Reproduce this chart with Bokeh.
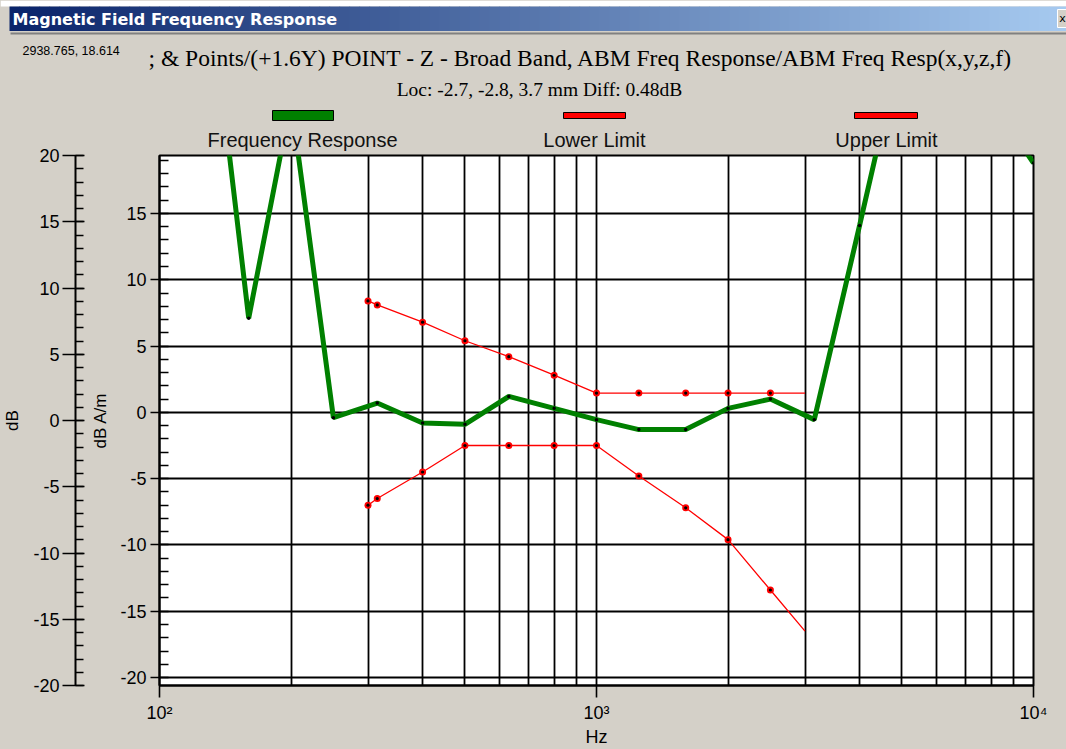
from bokeh.plotting import figure
from bokeh.models import Range1d, LinearAxis, LogAxis, FixedTicker, CustomJSTickFormatter
from bokeh.layouts import column
from bokeh.embed import file_html
from bokeh.resources import INLINE
from bokeh.core.properties import value

# ---------------- data ----------------
freq_response_hz = [125, 160, 200, 250, 315, 400, 500, 630, 800, 1000,
                    1250, 1600, 2000, 2500, 3150, 4000, 5000, 6300, 8000, 10000]
freq_response_db = [37.0, 7.1, 23.5, -0.4, 0.7, -0.8, -0.9, 1.2, 0.3, -0.55,
                    -1.3, -1.3, 0.3, 1.0, -0.55, 14.1, 28.0, 31.0, 23.5, 18.8]

limit_hz = [300, 315, 400, 500, 630, 800, 1000, 1250, 1600, 2000, 2500, 3000]
lower_limit_db = [-7.0, -6.5, -4.5, -2.5, -2.5, -2.5, -2.5, -4.8, -7.2, -9.6, -13.4, -16.5]
upper_limit_db = [8.4, 8.1, 6.8, 5.4, 4.2, 2.8, 1.45, 1.45, 1.45, 1.45, 1.45, 1.45]

x_major_ticks = [100, 1000, 10000]
x_minor_ticks = [200, 300, 400, 500, 600, 700, 800, 900,
                 2000, 3000, 4000, 5000, 6000, 7000, 8000, 9000]
y_major_ticks = [-20, -15, -10, -5, 0, 5, 10, 15, 20]
y_minor_ticks = list(range(-20, 21))

window_title = "Magnetic Field Frequency Response"
cursor_text = "2938.765, 18.614"
header_text = "; & Points/(+1.6Y) POINT - Z -  Broad Band, ABM Freq Response/ABM Freq Resp(x,y,z,f)"
loc_text = "Loc: -2.7, -2.8, 3.7 mm Diff: 0.48dB"
legend_labels = ["Frequency Response", "Lower Limit", "Upper Limit"]
legend_colors = ["#008000", "#ff0000", "#ff0000"]
legend_label_hz = [212.5, 989.5, 4609.0]   # legend label centres on the frequency axis

GRAY = "#D4D0C8"
W = 1066
HH = 125

# ---------------- header (title bar, text, legend swatches) ----------------
hdr = figure(frame_width=W, frame_height=HH, x_range=Range1d(0, W), y_range=Range1d(HH, 0),
             toolbar_location=None, output_backend="svg", min_border=0,
             x_axis_type=None, y_axis_type=None, title=None)
hdr.frame_align = False
hdr.outline_line_color = None
hdr.background_fill_color = GRAY
hdr.border_fill_color = GRAY

# white strip above the window
hdr.quad(left=[0], right=[W], top=[0], bottom=[6], fill_color="white", line_color=None)

n_strips = 106
c0 = (10, 36, 106)
c1 = (166, 202, 240)
strip_left = [9 + i * 10 for i in range(n_strips)]
strip_right = [9 + i * 10 + 10.6 for i in range(n_strips)]
strip_cols = []
for i in range(n_strips):
    t = i / (n_strips - 1)
    strip_cols.append("#%02x%02x%02x" % tuple(int(round(a + (b - a) * t)) for a, b in zip(c0, c1)))
hdr.quad(left=strip_left, right=strip_right, top=6, bottom=30.5,
         fill_color=strip_cols, line_color=None)
hdr.text(x=[12], y=[18.5], text=[window_title], text_color="white",
         text_font=value("DejaVu Sans"), text_font_style="bold",
         text_font_size="16px", text_baseline="middle")
# close button
hdr.quad(left=[1057], right=[1067], top=[9], bottom=[27], fill_color=GRAY,
         line_color="#ffffff", line_width=1)
hdr.text(x=[1062], y=[18], text=["x"], text_color="black",
         text_font=value("DejaVu Sans"), text_font_size="11px",
         text_align="center", text_baseline="middle")

# sunken panel border
hdr.segment(x0=[10], y0=[33], x1=[W], y1=[33], line_color="#808080", line_width=2)

hdr.text(x=[22], y=[50], text=[cursor_text], text_color="black",
         text_font=value("Liberation Sans"), text_font_size="12.5px",
         text_baseline="middle")
hdr.text(x=[148], y=[57], text=[header_text], text_color="black",
         text_font=value("Liberation Serif"), text_font_size="23.5px",
         text_baseline="middle")
hdr.text(x=[539], y=[88.5], text=[loc_text], text_color="black",
         text_font=value("Liberation Serif"), text_font_size="19.5px",
         text_baseline="middle", text_align="center")

# legend swatches
sw_left = [272, 563, 854]
sw_right = [333, 625, 917]
sw_top = [110, 112, 112]
sw_bottom = [120, 118, 118]
hdr.quad(left=sw_left, right=sw_right, top=sw_top, bottom=sw_bottom,
         fill_color=legend_colors, line_color="black", line_width=1)

# ---------------- main plot ----------------
p = figure(frame_width=874, frame_height=530, x_axis_type="log",
           x_range=Range1d(100, 10000), y_range=Range1d(-20.6, 19.37),
           toolbar_location=None, output_backend="svg",
           min_border_left=157, min_border_right=35,
           min_border_top=30, min_border_bottom=63)
p.frame_align = False
p.background_fill_color = "white"
p.border_fill_color = GRAY
p.outline_line_color = "black"
p.outline_line_width = 2

yticker = FixedTicker(ticks=y_major_ticks, minor_ticks=y_minor_ticks)
xticker = FixedTicker(ticks=x_major_ticks, minor_ticks=x_minor_ticks)
int_fmt = "return tick.toFixed(0);"

# inner (dB A/m) axis
yax = p.yaxis[0]
yax.ticker = yticker
yax.formatter = CustomJSTickFormatter(code=int_fmt)
yax.axis_label = "dB A/m"
yax.axis_label_standoff = 7
yax.axis_label_text_font = "Liberation Sans"
yax.axis_label_text_font_size = "17px"
yax.axis_label_text_font_style = "normal"
yax.axis_label_text_color = "black"
yax.major_label_text_font = "Liberation Sans"
yax.major_label_text_font_size = "18px"
yax.major_label_text_color = "black"
yax.major_label_standoff = 4
yax.major_tick_out = 9
yax.major_tick_in = 0
yax.minor_tick_in = 9
yax.minor_tick_out = 0
yax.axis_line_width = 2
yax.axis_line_color = "black"
yax.major_tick_line_width = 1.6
yax.minor_tick_line_width = 1.6
yax.major_tick_line_color = "black"
yax.minor_tick_line_color = "black"

# spacer between the two left axes (invisible)
spacer = LinearAxis(ticker=FixedTicker(ticks=[0]),
                    formatter=CustomJSTickFormatter(code="return '';"),
                    axis_line_color=None,
                    major_tick_line_color=GRAY, minor_tick_line_color=None,
                    major_tick_out=13, major_tick_in=0, minor_tick_out=0,
                    major_label_standoff=0)
p.add_layout(spacer, "left")

# outer (dB) axis
p.extra_y_ranges = {"outer": Range1d(-20, 20)}
outer = LinearAxis(y_range_name="outer",
                   ticker=FixedTicker(ticks=y_major_ticks, minor_ticks=y_minor_ticks),
                   formatter=CustomJSTickFormatter(code=int_fmt),
                   axis_label="dB")
outer.axis_label_standoff = 8
outer.axis_label_text_font = "Liberation Sans"
outer.axis_label_text_font_size = "17px"
outer.axis_label_text_font_style = "normal"
outer.axis_label_text_color = "black"
outer.major_label_text_font = "Liberation Sans"
outer.major_label_text_font_size = "18px"
outer.major_label_text_color = "black"
outer.major_label_standoff = 3
outer.major_tick_out = 13
outer.major_tick_in = 9
outer.minor_tick_in = 8
outer.minor_tick_out = 0
outer.axis_line_width = 2
outer.axis_line_color = "black"
outer.major_tick_line_width = 1.6
outer.minor_tick_line_width = 1.6
outer.major_tick_line_color = "black"
outer.minor_tick_line_color = "black"
p.add_layout(outer, "left")

# x axis
xax = p.xaxis[0]
xax.ticker = xticker
xax.formatter = CustomJSTickFormatter(code="""
const sup = {"2": "\u00b2", "3": "\u00b3", "4": "\u2074"};
const e = Math.round(Math.log10(tick));
return "10" + sup[String(e)];
""")
xax.axis_label = "Hz"
xax.axis_label_standoff = 1
xax.axis_label_text_font = "Liberation Sans"
xax.axis_label_text_font_size = "18px"
xax.axis_label_text_font_style = "normal"
xax.axis_label_text_color = "black"
xax.major_label_text_font = "Liberation Sans"
xax.major_label_text_font_size = "18px"
xax.major_label_text_color = "black"
xax.major_label_standoff = 5
xax.major_tick_out = 12
xax.major_tick_in = 0
xax.minor_tick_line_color = None
xax.axis_line_width = 2
xax.axis_line_color = "black"
xax.major_tick_line_width = 1.6
xax.major_tick_line_color = "black"

# legend labels: an unlined axis above the frame carrying the series names
legend_axis = LogAxis(ticker=FixedTicker(ticks=legend_label_hz),
                      formatter=CustomJSTickFormatter(args=dict(names=legend_labels),
                                                      code="return names[index];"),
                      axis_line_color=None, major_tick_line_color=None,
                      minor_tick_line_color=None, major_tick_out=0, major_tick_in=0,
                      minor_tick_out=0, minor_tick_in=0, major_label_standoff=5)
legend_axis.major_label_text_font = "Liberation Sans"
legend_axis.major_label_text_font_size = "20px"
legend_axis.major_label_text_color = "#111111"
p.add_layout(legend_axis, "above")

# grids
p.xgrid.ticker = xticker
p.xgrid.grid_line_color = "black"
p.xgrid.grid_line_width = 1.8
p.xgrid.minor_grid_line_color = "black"
p.xgrid.minor_grid_line_width = 1.8
p.ygrid.ticker = yticker
p.ygrid.grid_line_color = "black"
p.ygrid.grid_line_width = 1.8

# data
p.line(freq_response_hz, freq_response_db, line_color="#008000", line_width=5)
p.scatter(freq_response_hz, freq_response_db, size=3.5, fill_color="black", line_color=None)

for vals in (lower_limit_db, upper_limit_db):
    p.line(limit_hz, vals, line_color="#ff0000", line_width=1.3)
    p.scatter(limit_hz[:-1], vals[:-1], size=7, fill_color="#ff0000", line_color=None)
    p.scatter(limit_hz[:-1], vals[:-1], size=3.2, fill_color="black", line_color=None)

layout = column(hdr, p, spacing=0)
layout.styles = {"background-color": GRAY}
open("out.html", "w").write(file_html(layout, INLINE))
